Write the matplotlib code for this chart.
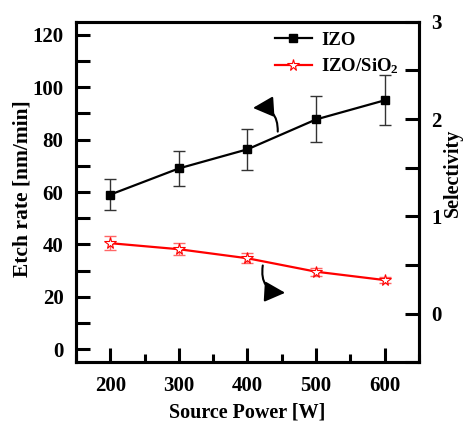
import numpy as np
import matplotlib
matplotlib.use("Agg")
import matplotlib.pyplot as plt
from matplotlib.ticker import MultipleLocator

plt.rcParams["font.family"] = "Liberation Serif"
plt.rcParams["font.weight"] = "bold"
plt.rcParams["mathtext.fontset"] = "custom"
plt.rcParams["mathtext.rm"] = "Liberation Serif:bold"
plt.rcParams["mathtext.default"] = "rm"

power = [200, 300, 400, 500, 600]
etch_rate = [59.0, 69.0, 76.3, 87.7, 95.0]
etch_err = [5.8, 6.8, 7.8, 8.8, 9.5]
selectivity = [0.724, 0.662, 0.569, 0.431, 0.345]
sel_err = [0.069, 0.064, 0.052, 0.043, 0.030]

# curved annotation arrows (data coords of left axis)
arrow_up = ((444, 82), (404, 92))
arrow_down = ((423, 33), (459, 21.5))

fig = plt.figure(figsize=(4.66, 4.22), dpi=100)
ax = fig.add_axes([0.163, 0.1415, 0.736, 0.807])
ax2 = ax.twinx()

ax.errorbar(power, etch_rate, yerr=etch_err, fmt="none", ecolor="#333333",
            elinewidth=1, capsize=4.3, capthick=1)
l1, = ax.plot(power, etch_rate, "k-s", lw=1.6, ms=6, label="IZO")

ax2.errorbar(power, selectivity, yerr=sel_err, fmt="none", ecolor="#ff6666",
             elinewidth=1, capsize=4.3, capthick=1)
l2, = ax2.plot(power, selectivity, "-", color="red", lw=1.6, marker="*",
               ms=8.5, mfc="white", mec="red", mew=0.8, label="IZO/SiO$_2$")

ax.set_xlim(150, 650)
ax.set_ylim(-5, 125)
ax2.set_ylim(-0.5, 3)

ax.xaxis.set_major_locator(MultipleLocator(100))
ax.xaxis.set_minor_locator(MultipleLocator(50))
ax.yaxis.set_major_locator(MultipleLocator(20))
ax.yaxis.set_minor_locator(MultipleLocator(10))
ax2.yaxis.set_major_locator(MultipleLocator(1))
ax2.yaxis.set_minor_locator(MultipleLocator(0.5))

ax.tick_params(axis="x", which="major", direction="in", length=10, width=2.2,
               labelsize=15, pad=10, top=False)
ax.tick_params(axis="x", which="minor", direction="in", length=6, width=2.2,
               top=False)
ax.tick_params(axis="y", which="both", direction="in", length=10, width=2.2,
               labelsize=15, pad=9, right=False)
ax2.tick_params(axis="y", which="both", direction="in", length=10, width=2.2,
                labelsize=15, pad=9)

for a in (ax, ax2):
    for s in a.spines.values():
        s.set_linewidth(2.2)

ax.set_xlabel("Source Power [W]", fontsize=14.5, fontweight="bold")
ax.set_ylabel("Etch rate [nm/min]", fontsize=15.5, fontweight="bold")
ax2.set_ylabel("Selectivity", fontsize=14.5, fontweight="bold")
ax.xaxis.set_label_coords(0.498, -0.117)
ax.yaxis.set_label_coords(-0.128, 0.509)
ax2.yaxis.set_label_coords(1.07, 0.556)

ax2.legend(handles=[l1, l2], loc="upper left", bbox_to_anchor=(0.53, 1.02),
           frameon=False, fontsize=13.5, handlelength=2.0, handletextpad=0.5,
           labelspacing=0.4)

for (start, tip), rad in ((arrow_up, 0.6), (arrow_down, 0.6)):
    ax.annotate("", xy=tip, xytext=start,
                arrowprops=dict(arrowstyle="-|>,head_length=0.9,head_width=0.45",
                                connectionstyle=f"arc3,rad={rad}", color="k",
                                lw=1.5, mutation_scale=14))

fig.savefig("out.png", dpi=100)
